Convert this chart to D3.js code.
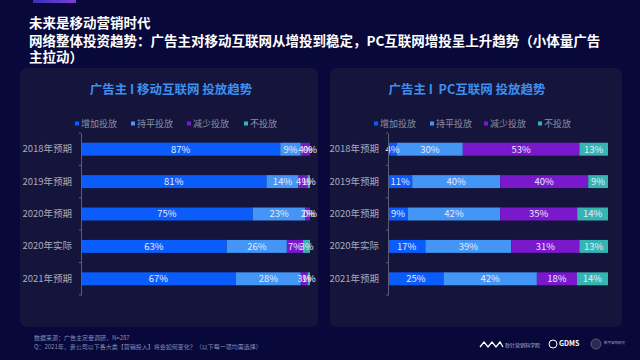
<!DOCTYPE html>
<html><head><meta charset="utf-8">
<script src="https://cdn.jsdelivr.net/npm/d3@7"></script>
<style>html,body{margin:0;padding:0;background:#08083a;}svg{display:block;font-family:"Noto Sans CJK SC","Noto Sans",sans-serif;}</style>
</head><body>
<script>
const categories = ["2018年预期","2019年预期","2020年预期","2020年实际","2021年预期"];
const seriesNames = ["增加投放","持平投放","减少投放","不投放"];
const mobileIncrease = [87,81,75,63,67];
const mobileFlat = [9,14,23,26,28];
const mobileDecrease = [4,4,2,7,3];
const mobileNone = [0,1,0,3,1];
const pcIncrease = [4,11,9,17,25];
const pcFlat = [30,40,42,39,42];
const pcDecrease = [53,40,35,31,18];
const pcNone = [13,9,14,13,14];
const titleLines = ["未来是移动营销时代","网络整体投资趋势：广告主对移动互联网从增投到稳定，PC互联网增投呈上升趋势（小体量广告","主拉动）"];
const panelTitles = ["广告主\u00a0I\u00a0移动互联网\u00a0投放趋势","广告主\u00a0I\u00a0\u00a0PC互联网\u00a0投放趋势"];
const footLines = ["数据来源：广告主定量调研，N=287","Q：2021年，贵公司以下各大类【营销投入】将会如何变化？（以下每一项均需选择）"];
const colors = ["#0a5dfb","#4396f5","#7a18cc","#35b5b2"];

const W=640,H=360;
const svg=d3.select("body").append("svg").attr("width",W).attr("height",H);
const defs=svg.append("defs");
const g1=defs.append("linearGradient").attr("id","topbar");
g1.append("stop").attr("offset","0").attr("stop-color","#3a2fb8");
g1.append("stop").attr("offset","1").attr("stop-color","#7a3fd8");
svg.append("rect").attr("width",W).attr("height",H).attr("fill","#08083a");
svg.append("rect").attr("x",33).attr("y",0).attr("width",43).attr("height",3).attr("fill","url(#topbar)");

const tl=svg.append("g").attr("font-weight","bold").attr("fill","#ffffff").attr("font-size",13.5);
[23,41,57].forEach((y,i)=>tl.append("text").attr("x",29).attr("y",y).attr("dy","0.35em").text(titleLines[i]));

const panels=[
  {x:20,w:298,axisX:81,endX:310,titleX:171,legX:[75,131,187,244],data:[mobileIncrease,mobileFlat,mobileDecrease,mobileNone],title:panelTitles[0]},
  {x:330,w:292,axisX:388,endX:608,titleX:467,legX:[374,430,484,538],data:[pcIncrease,pcFlat,pcDecrease,pcNone],title:panelTitles[1]}
];
panels.forEach(p=>{
  const g=svg.append("g");
  g.append("rect").attr("x",p.x).attr("y",68).attr("width",p.w).attr("height",259).attr("rx",7).attr("fill","#15153b");
  g.append("text").attr("x",p.titleX).attr("y",90).attr("dy","0.35em").attr("text-anchor","middle")
    .attr("font-size",12.5).attr("font-weight","bold").attr("fill","#3d8ff0").text(p.title);
  seriesNames.forEach((n,i)=>{
    g.append("rect").attr("x",p.legX[i]).attr("y",121.5).attr("width",4).attr("height",4).attr("fill",colors[i]);
    g.append("text").attr("x",p.legX[i]+6).attr("y",124).attr("dy","0.35em").attr("font-size",9).attr("fill","#8d8fa6").text(n);
  });
  const rows=categories.map((c,i)=>{const o={cat:c};seriesNames.forEach((s,k)=>o[s]=p.data[k][i]);return o;});
  const stack=d3.stack().keys(seriesNames).offset(d3.stackOffsetExpand)(rows);
  const y=d3.scaleBand().domain(categories).range([133,295]).paddingInner(0.6).paddingOuter(0.3);
  const x=d3.scaleLinear().domain([0,1]).range([p.axisX,p.endX]);
  stack.forEach((layer,k)=>{
    g.append("g").selectAll("rect").data(layer).join("rect")
      .attr("x",d=>x(d[0])).attr("y",d=>y(d.data.cat)).attr("width",d=>x(d[1])-x(d[0])).attr("height",y.bandwidth())
      .attr("fill",colors[k]);
  });
  stack.forEach((layer,k)=>{
    g.append("g").selectAll("text").data(layer).join("text")
      .attr("x",d=>(x(d[0])+x(d[1]))/2).attr("y",d=>y(d.data.cat)+y.bandwidth()/2).attr("dy","0.35em")
      .attr("text-anchor","middle").attr("font-size",9.5).attr("fill","#e6e8ff")
      .text(d=>d.data[seriesNames[k]]+"%");
  });
  const axis=d3.axisLeft(y).tickSize(2).tickSizeOuter(0).tickPadding(7);
  const ag=g.append("g").attr("transform",`translate(${p.axisX},0)`).call(axis);
  ag.select(".domain").attr("stroke","#5a5c7a");
  ag.selectAll(".tick line").remove();
  ag.selectAll(".tick text").attr("font-size",9.5).attr("fill","#a6a8bd").attr("font-family","\"Noto Sans CJK SC\",sans-serif");
  const bounds=categories.map(c=>y(c)-y.step()*y.paddingInner()/2).concat([295]);
  ag.selectAll("line.bt").data(bounds).join("line").attr("class","bt").attr("x1",-2).attr("x2",0)
    .attr("y1",d=>d).attr("y2",d=>d).attr("stroke","#5a5c7a");
});

const fg=svg.append("g").attr("font-size",6).attr("fill","#8a8cae");
footLines.forEach((t,i)=>fg.append("text").attr("x",34).attr("y",340+i*9).text(t));
const lg=svg.append("g");
lg.append("path").attr("d","M480,347 l4,-5 l4,5 l4,-5 l4,5 l4,-5 l3,5").attr("fill","none").attr("stroke","#ffffff").attr("stroke-width",1.3);
lg.append("text").attr("x",505).attr("y",347).attr("font-size",5).attr("fill","#b8badb").text("秒针营销科学院");
lg.append("circle").attr("cx",553).attr("cy",344).attr("r",4).attr("fill","none").attr("stroke","#ffffff").attr("stroke-width",1);
lg.append("text").attr("x",559).attr("y",346).attr("font-size",7).attr("font-weight","bold").attr("fill","#ffffff").text("GDMS");
lg.append("circle").attr("cx",596).attr("cy",344).attr("r",5).attr("fill","#2a2a55").attr("stroke","#55577a");
lg.append("text").attr("x",604).attr("y",344).attr("font-size",3.5).attr("fill","#9a9cbd").text("数字营销研究");
</script>
</body></html>
